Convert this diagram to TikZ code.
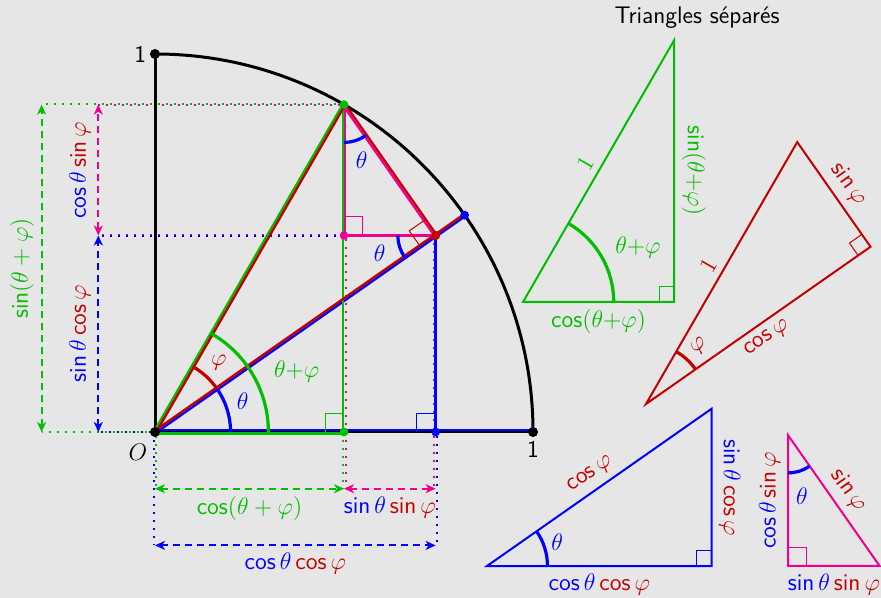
\documentclass[tikz,border=0pt]{standalone}
\usepackage{fontspec}
\usetikzlibrary{calc,arrows.meta}
\definecolor{cg}{RGB}{0,190,0}
\definecolor{cr}{RGB}{195,0,0}
\definecolor{cb}{RGB}{0,0,255}
\definecolor{ck}{RGB}{240,0,140}
\definecolor{bgc}{RGB}{230,230,230}
\newcommand{\mSin}{\mathop{\mathsf{sin}}\nolimits}
\newcommand{\mCos}{\mathop{\mathsf{cos}}\nolimits}
\begin{document}
\begin{tikzpicture}[x=189pt,y=189pt,
  every node/.style={font=\fontsize{12}{14.4}\selectfont},
  sh/.style 2 args={transform canvas={shift={(#1:#2)}}},
  bk/.style={black, line width=1.5pt},
  ln/.style={line width=1.2pt},
  dotl/.style={line width=1pt, dash pattern=on 1pt off 3pt},
  dim/.style={line width=1pt, dash pattern=on 3.5pt off 2.5pt,
    {Stealth[length=5pt,width=4.5pt,inset=1.5pt]}-{Stealth[length=5pt,width=4.5pt,inset=1.5pt]}},
  arcst/.style={line width=1.6pt},
  ra/.style={line width=0.5pt},
  tri/.style={line width=1pt, line join=miter},
]
\fill[bgc] (-77.5pt,-83pt) rectangle (363pt,216pt);
\useasboundingbox (-77.5pt,-83pt) rectangle (363pt,216pt);

% ---------- main coordinates ----------
\coordinate (O) at (0,0);
\coordinate (X1) at (1,0);
\coordinate (Y1) at (0,1);
\coordinate (P) at (0.5,0.866025);
\coordinate (B) at (0.819152,0.573576);
\coordinate (Q) at (0.742404,0.519837);
\coordinate (H) at (0.5,0.519837);
\coordinate (F1) at (0.5,0);
\coordinate (F2) at (0.742404,0);
\coordinate (gT) at (-0.3,0.866025);
\coordinate (gB) at (-0.3,0);
\coordinate (kT) at (-0.15,0.866025);
\coordinate (kM) at (-0.15,0.519837);
\coordinate (kB) at (-0.15,0);
\coordinate (gL) at (0,-0.15);
\coordinate (gR) at (0.5,-0.15);
\coordinate (kR) at (0.742404,-0.15);
\coordinate (bL) at (0,-0.3);
\coordinate (bR) at (0.742404,-0.3);

% ---------- dotted extension lines ----------
\draw[dotl,cg,sh={90}{0.4pt}] (P) -- (gT);
\draw[dotl,ck,sh={270}{0.4pt},dash phase=2pt] (P) -- (kT);
\draw[dotl,ck,sh={90}{0.4pt}] (H) -- (kM);
\draw[dotl,cb,sh={270}{0.4pt},dash phase=2pt] (Q) -- (kM);
\draw[dotl,cg] (O) -- (gB);
\draw[dotl,cb,dash phase=2pt] (O) -- (kB);
\draw[dotl,cb,sh={180}{0.5pt}] (O) -- (bL);
\draw[dotl,cg,sh={0}{0.5pt},dash phase=2pt] (O) -- (gL);
\draw[dotl,cg,sh={180}{0.3pt}] (F1) -- (gR);
\draw[dotl,ck,sh={0}{1pt},dash phase=2pt] (H) -- (gR);
\draw[dotl,ck,sh={180}{1pt}] (Q) -- (kR);
\draw[dotl,cb,sh={0}{0.5pt},dash phase=2pt] (F2) -- (bR);

% ---------- dimension arrows ----------
\draw[dim,cg] (gB) -- node[midway,above,sloped] (lsinsum) {$\mSin(\theta+\varphi)$} (gT);
\draw[dim,ck] (kM) -- node[midway,above,sloped] (lcs) {$\textcolor{cb}{\mCos\theta}\,\textcolor{cr}{\mSin\varphi}$} (kT);
\draw[dim,cb] (kB) -- node[midway,above,sloped] (lsc) {$\textcolor{cb}{\mSin\theta}\,\textcolor{cr}{\mCos\varphi}$} (kM);
\draw[dim,cg] (gL) -- node[midway,below] (lcossum) {$\mCos(\theta+\varphi)$} (gR);
\draw[dim,ck] (gR) -- node[midway,below] (lss) {$\textcolor{cb}{\mSin\theta}\,\textcolor{cr}{\mSin\varphi}$} (kR);
\draw[dim,cb] (bL) -- node[midway,below] (lcc) {$\textcolor{cb}{\mCos\theta}\,\textcolor{cr}{\mCos\varphi}$} (bR);

% ---------- axes and arc ----------
\draw[bk] (X1) arc[start angle=0,end angle=90,radius=1];
\draw[bk] (Y1) -- (O) -- (X1);

% ---------- coloured lines ----------
\draw[cb,line width=1pt,sh={90}{0.8pt}] (O) -- (X1);
\draw[cb,ln,sh={305}{0.55pt}] (O) -- (B);
\draw[cb,ln] (F2) -- (Q);
\draw[cg,ln,sh={150}{0.55pt}] (O) -- (P);
\draw[cg,line width=1.5pt,sh={270}{1pt}] (O) -- (F1);
\draw[ck,ln,sh={0}{0.6pt}] (P) -- (H);
\draw[cg,ln,sh={180}{0.5pt}] (P) -- (F1);
\draw[cr,ln,sh={330}{0.55pt}] (O) -- (P);
\draw[cr,ln,sh={125}{0.55pt}] (O) -- (B);
\draw[cr,ln,sh={35}{0.55pt}] (P) -- (Q);
\draw[ck,ln,sh={215}{0.55pt}] (P) -- (Q);
\draw[ck,ln] (H) -- (Q);

% ---------- right angles ----------
\draw[cg,ra] (F1) ++(-0.05,0) -- ++(0,0.05) -- ++(0.05,0);
\draw[cb,ra] (F2) ++(-0.05,0) -- ++(0,0.05) -- ++(0.05,0);
\draw[ck,ra] (H) ++(0.05,0) -- ++(0,0.05) -- ++(-0.05,0);
\draw[cr,ra] (Q) ++(215:0.05) -- ++(125:0.05) -- ++(35:0.05);

% ---------- angle arcs ----------
\draw[cg,arcst] (0.3,0) arc[start angle=0,end angle=60,radius=0.3];
\draw[cb,arcst] (0.2,0) arc[start angle=0,end angle=35,radius=0.2];
\draw[cr,arcst] (35:0.2) arc[start angle=35,end angle=60,radius=0.2];
\draw[cb,arcst] (P) ++(270:0.1) arc[start angle=270,end angle=305,radius=0.1];
\draw[cb,arcst] (Q) ++(180:0.1) arc[start angle=180,end angle=215,radius=0.1];
\node[cb] (thO) at (0.232,0.082) {$\theta$};
\node[cr] (phO) at (47.5:0.25) {$\varphi$};
\node[cg] (tpO) at (0.375,0.16) {$\theta{+}\varphi$};
\node[cb] (thP) at ($(P)+(287.5:0.155)$) {$\theta$};
\node[cb] (thQ) at ($(Q)+(197.5:0.155)$) {$\theta$};

% ---------- points ----------
\fill[black] (O) circle (2.5pt);
\fill[black] (X1) circle (2.5pt);
\fill[black] (Y1) circle (2.5pt);
\fill[cg] (P) circle (2.2pt);
\fill[cg] (F1) circle (2.2pt);
\fill[cb] (B) circle (2.2pt);
\fill[cb] (F2) circle (2.2pt);
\fill[cr] (Q) circle (2.3pt);
\fill[ck] (H) circle (2.1pt);
\node[anchor=east,inner sep=2pt] (one1) at ($(Y1)+(-0.012,0)$) {\sffamily 1};
\node[anchor=north,inner sep=2pt] (one2) at ($(X1)+(0,-0.012)$) {\sffamily 1};
\node (lO) at (-0.045,-0.053) {$O$};

% ---------- title ----------
\node (title) at (1.4339,1.0952) {\sffamily Triangles séparés};

% ---------- green triangle ----------
\begin{scope}[shift={(0.97354,0.34392)},scale=0.8]
\coordinate (G0) at (0,0);
\coordinate (GR) at (0.5,0);
\coordinate (GT) at (0.5,0.866025);
\draw[cg,tri] (G0) -- node[midway,above,sloped] (g1) {$1$} (GT)
  -- node[midway,rotate=-90,anchor=south] (gs) {$\mSin(\theta{+}\varphi)$} (GR)
  -- node[midway,below] (gc) {$\mCos(\theta{+}\varphi)$} cycle;
\draw[cg,ra] (GR) ++(-0.05,0) -- ++(0,0.05) -- ++(0.05,0);
\draw[cg,arcst] (0.3,0) arc[start angle=0,end angle=60,radius=0.3];
\node[cg] (gtp) at (0.38,0.18) {$\theta{+}\varphi$};
\end{scope}

% ---------- red triangle ----------
\begin{scope}[shift={(1.29894,0.07407)},scale=0.8]
\coordinate (R0) at (0,0);
\coordinate (RP) at (0.5,0.866025);
\coordinate (RQ) at (0.742404,0.519837);
\draw[cr,tri] (R0) -- node[midway,above,sloped] (r1) {$1$} (RP)
  -- node[midway,above,sloped] (rs) {$\mSin\varphi$} (RQ)
  -- node[midway,below,sloped] (rc) {$\mCos\varphi$} cycle;
\draw[cr,ra] (RQ) ++(215:0.05) -- ++(125:0.05) -- ++(35:0.05);
\draw[cr,arcst] (35:0.2) arc[start angle=35,end angle=60,radius=0.2];
\node[cr,rotate=40] (rph) at (47.5:0.26) {$\varphi$};
\end{scope}

% ---------- blue triangle ----------
\begin{scope}[shift={(0.87831,-0.35450)},scale=0.8]
\coordinate (B0) at (0,0);
\coordinate (BF) at (0.742404,0);
\coordinate (BQ) at (0.742404,0.519837);
\draw[cb,tri] (B0) -- node[midway,above,sloped] (bc) {$\textcolor{cr}{\mCos\varphi}$} (BQ)
  -- node[midway,rotate=-90,anchor=south] (bsc) {$\textcolor{cb}{\mSin\theta}\,\textcolor{cr}{\mCos\varphi}$} (BF)
  -- node[midway,below] (bcc) {$\textcolor{cb}{\mCos\theta}\,\textcolor{cr}{\mCos\varphi}$} cycle;
\draw[cb,ra] (BF) ++(-0.05,0) -- ++(0,0.05) -- ++(0.05,0);
\draw[cb,arcst] (0.2,0) arc[start angle=0,end angle=35,radius=0.2];
\node[cb] (bth) at (19:0.245) {$\theta$};
\end{scope}

% ---------- pink triangle ----------
\begin{scope}[shift={(1.174603,-0.874334)}]
\coordinate (KP) at (0.5,0.866025);
\coordinate (KH) at (0.5,0.519837);
\coordinate (KQ) at (0.742404,0.519837);
\draw[ck,tri] (KP) -- node[midway,above,sloped] (ks) {$\textcolor{cr}{\mSin\varphi}$} (KQ)
  -- node[midway,below] (kss) {$\textcolor{cb}{\mSin\theta}\,\textcolor{cr}{\mSin\varphi}$} (KH)
  -- node[midway,rotate=90,anchor=south] (kcs) {$\textcolor{cb}{\mCos\theta}\,\textcolor{cr}{\mSin\varphi}$} cycle;
\draw[ck,ra] (KH) ++(0.05,0) -- ++(0,0.05) -- ++(-0.05,0);
\draw[cb,arcst] (KP) ++(270:0.1) arc[start angle=270,end angle=305,radius=0.1];
\path (KP) ++(283:0.165) node[cb] (kth) {$\theta$};
\end{scope}
\end{tikzpicture}
\end{document}
